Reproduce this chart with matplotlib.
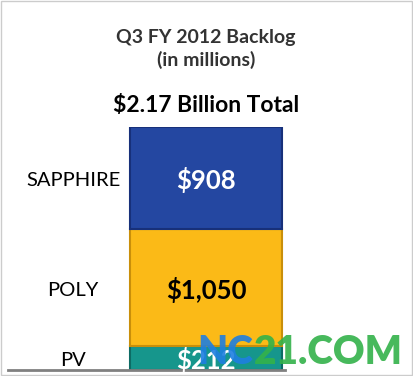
import matplotlib.pyplot as plt

categories = ['PV', 'POLY', 'SAPPHIRE']
values = [212, 1050, 908]
value_labels = ['$212', '$1,050', '$908']
colors = ['#16968C', '#FBBA17', '#2447A1']
edges = ['#0D6B64', '#C98F0A', '#17307A']
label_colors = ['white', 'black', 'white']
title = 'Q3 FY 2012 Backlog\n(in millions)'
total_label = '$2.17 Billion Total'

plt.rcParams['font.family'] = ['Lato', 'DejaVu Sans']

W, H = 413, 376
fig = plt.figure(figsize=(W / 100, H / 100), dpi=100)
fig.patch.set_facecolor('white')

# axes placed in pixel terms: x 8..285, y 127..370 (from top)
ax = fig.add_axes([8 / W, (H - 370) / H, 277 / W, 243 / H])
ax.set_xlim(0, 1)
ax.set_ylim(0, sum(values))

bottom = 0
for cat, v, lab, c, ec, lc in zip(categories, values, value_labels, colors, edges, label_colors):
    ax.bar(0.44, v, width=0.55, bottom=bottom, align='edge', color=c,
           edgecolor=ec, linewidth=1.5)
    mid = bottom + v / 2
    ax.text(0.44 + 0.275, mid - 20, lab, ha='center', va='center', color=lc,
            fontsize=18.5, fontweight='bold', clip_on=False)
    ax.text(0.235, mid - 25, cat, ha='center', va='center', color='black',
            fontsize=14.5, clip_on=False)
    bottom += v

for s in ['top', 'right', 'left']:
    ax.spines[s].set_visible(False)
ax.spines['bottom'].set_color('#808080')
ax.spines['bottom'].set_linewidth(2)
ax.set_xticks([])
ax.set_yticks([])
ax.patch.set_alpha(0)

fig.text(206 / W, 1 - 49 / H, title, ha='center', va='center', fontsize=14,
         fontweight='bold', color='#333333', linespacing=1.3)
fig.text(206 / W, 1 - 105 / H, total_label, ha='center', va='center',
         fontsize=16.5, fontweight='bold', color='black')

# watermark
fig.text(197 / W, 1 - 352 / H, 'NC', ha='left', va='center', fontsize=28,
         fontweight='heavy', color='#1E7FE0', alpha=0.9)
fig.text(254 / W, 1 - 352 / H, '21.COM', ha='left', va='center', fontsize=28,
         fontweight='heavy', color='#33B24A', alpha=0.9)

# light frame
fig.patches.append(plt.Rectangle((0.002, 0.002), 0.995, 0.995, transform=fig.transFigure,
                                 fill=False, edgecolor='#CCCCCC', linewidth=1))

fig.savefig('out.png', dpi=100)
